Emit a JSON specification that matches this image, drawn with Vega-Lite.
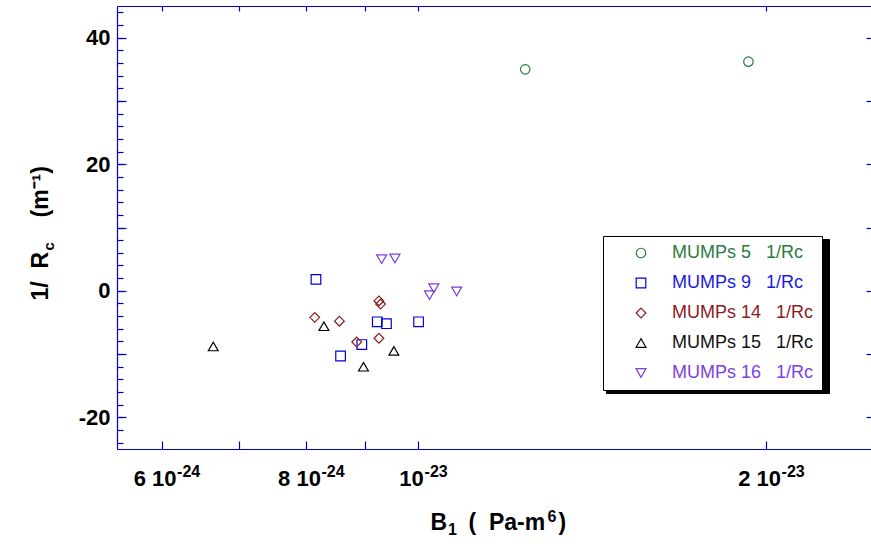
{
  "$schema": "https://vega.github.io/schema/vega-lite/v6.json",
  "autosize": {"type": "none"},
  "padding": {"left": 117, "top": 6, "right": 0, "bottom": 95},
  "width": 754,
  "height": 443,
  "background": "white",
  "config": {
    "font": "Liberation Sans",
    "view": {"stroke": null},
    "axis": {"grid": false, "domainColor": "#0000cc", "tickColor": "#0000cc", "domainWidth": 1.2, "tickWidth": 1.2,
             "titleFontWeight": "bold", "titleColor": "#000", "titleBaseline": "alphabetic", "titleAlign": "left"}
  },
  "data": {
    "values": [
      {"series": "MUMPs 5", "B1": 1.238e-23, "inv_Rc": 35.0},
      {"series": "MUMPs 5", "B1": 1.931e-23, "inv_Rc": 36.2},
      {"series": "MUMPs 9", "B1": 8.16e-24, "inv_Rc": 1.8},
      {"series": "MUMPs 9", "B1": 9.22e-24, "inv_Rc": -4.9},
      {"series": "MUMPs 9", "B1": 9.39e-24, "inv_Rc": -5.2},
      {"series": "MUMPs 9", "B1": 1.001e-23, "inv_Rc": -4.9},
      {"series": "MUMPs 9", "B1": 8.94e-24, "inv_Rc": -8.5},
      {"series": "MUMPs 9", "B1": 8.57e-24, "inv_Rc": -10.3},
      {"series": "MUMPs 14", "B1": 9.25e-24, "inv_Rc": -1.6},
      {"series": "MUMPs 14", "B1": 9.28e-24, "inv_Rc": -2.1},
      {"series": "MUMPs 14", "B1": 8.14e-24, "inv_Rc": -4.2},
      {"series": "MUMPs 14", "B1": 8.55e-24, "inv_Rc": -4.8},
      {"series": "MUMPs 14", "B1": 8.85e-24, "inv_Rc": -8.1},
      {"series": "MUMPs 14", "B1": 9.25e-24, "inv_Rc": -7.5},
      {"series": "MUMPs 15", "B1": 6.65e-24, "inv_Rc": -8.8},
      {"series": "MUMPs 15", "B1": 8.29e-24, "inv_Rc": -5.6},
      {"series": "MUMPs 15", "B1": 9.53e-24, "inv_Rc": -9.5},
      {"series": "MUMPs 15", "B1": 8.97e-24, "inv_Rc": -12.0},
      {"series": "MUMPs 16", "B1": 9.30e-24, "inv_Rc": 5.0},
      {"series": "MUMPs 16", "B1": 9.55e-24, "inv_Rc": 5.1},
      {"series": "MUMPs 16", "B1": 1.032e-23, "inv_Rc": 0.4},
      {"series": "MUMPs 16", "B1": 1.023e-23, "inv_Rc": -0.7},
      {"series": "MUMPs 16", "B1": 1.080e-23, "inv_Rc": -0.1}
    ]
  },
  "layer": [
    {
      "mark": {"type": "point", "filled": false, "strokeWidth": 1.2, "opacity": 1},
      "encoding": {
        "x": {
          "field": "B1", "type": "quantitative",
          "scale": {"type": "log", "domain": [5.49e-24, 2.465e-23], "nice": false},
          "axis": {
            "orient": "bottom",
            "values": [6e-24, 7e-24, 8e-24, 9e-24, 1e-23, 2e-23],
            "ticks": true, "tickSize": -8,
            "labelExpr": "round(datum.value*1e25)==60 ? '6 10' : round(datum.value*1e25)==80 ? '8 10' : round(datum.value*1e25)==100 ? '10' : round(datum.value*1e25)==200 ? '2 10' : ''",
            "labelFontSize": 22, "labelFontWeight": "bold", "labelColor": "#000",
            "labelPadding": 27, "labelOffset": -7, "labelAlign": "center", "labelBaseline": "top",
            "labelOverlap": false, "labelFlush": false, "labelBound": false,
            "title": "B", "titleFontSize": 23, "titleX": 313, "titleY": 80
          }
        },
        "y": {
          "field": "inv_Rc", "type": "quantitative",
          "scale": {"domain": [-25, 45], "nice": false, "zero": false},
          "axis": {
            "orient": "left",
            "values": [-24, -22, -20, -18, -16, -14, -12, -10, -8, -6, -4, -2, 0, 2, 4, 6, 8, 10, 12, 14, 16, 18, 20, 22, 24, 26, 28, 30, 32, 34, 36, 38, 40, 42, 44],
            "ticks": true, "tickSize": -6,
            "labelExpr": "datum.value % 20 === 0 ? (datum.value < 0 ? '-' + abs(datum.value) : '' + datum.value) : ''",
            "labelFontSize": 22, "labelFontWeight": "bold", "labelColor": "#000",
            "labelPadding": 13, "labelOverlap": false, "labelBound": false, "labelFlush": false,
            "title": "1/\u00a0\u00a0R", "titleFontSize": 23, "titleAngle": -90, "titleX": -70, "titleY": 294
          }
        },
        "color": {
          "field": "series", "type": "nominal",
          "scale": {
            "domain": ["MUMPs 5", "MUMPs 9", "MUMPs 14", "MUMPs 15", "MUMPs 16"],
            "range": ["#2a7d3c", "#0000dd", "#8b1c1c", "#000000", "#7b3fe0"]
          },
          "legend": {
            "orient": "none", "legendX": 486, "legendY": 230, "zindex": 2,
            "title": null,
            "strokeColor": "#000", "fillColor": "#fff", "padding": 8,
            "symbolOffset": 21, "symbolSize": 80, "symbolStrokeWidth": 1.2, "symbolType": "circle",
            "labelOffset": 22, "labelFontSize": 18, "labelFont": "Liberation Sans", "labelLimit": 300,
            "labelColor": {"expr": "datum.value === 'MUMPs 5' ? '#2a7d3c' : datum.value === 'MUMPs 9' ? '#1a1ae0' : datum.value === 'MUMPs 14' ? '#8b1c1c' : datum.value === 'MUMPs 16' ? '#7b3fe0' : '#111111'"},
            "rowPadding": 12,
            "labelExpr": "datum.label + '\u00a0\u00a0\u00a01/Rc'",
            "encode": {
              "legend": {"strokeWidth": {"value": 2}}
            }
          }
        },
        "shape": {
          "field": "series", "type": "nominal",
          "scale": {
            "domain": ["MUMPs 5", "MUMPs 9", "MUMPs 14", "MUMPs 15", "MUMPs 16"],
            "range": ["circle", "square", "diamond", "triangle-up", "triangle-down"]
          }
        },
        "size": {
          "field": "series", "type": "nominal",
          "scale": {
            "domain": ["MUMPs 5", "MUMPs 9", "MUMPs 14", "MUMPs 15", "MUMPs 16"],
            "range": [90, 100, 150, 100, 100]
          },
          "legend": null
        }
      }
    },
    {
      "mark": {"type": "point", "opacity": 0},
      "encoding": {
        "x": {
          "field": "B1", "type": "quantitative",
          "axis": {
            "orient": "top", "values": [6e-24, 7e-24, 8e-24, 9e-24, 1e-23, 2e-23],
            "labels": false, "ticks": true, "tickSize": -5,
            "title": "6", "titleFontSize": 16, "titleX": 430, "titleY": 515
          }
        },
        "y": {
          "field": "inv_Rc", "type": "quantitative",
          "axis": {
            "orient": "right", "values": [-20, -10, 0, 10, 20, 30, 40],
            "labels": false, "domain": false, "ticks": true, "tickSize": -5,
            "title": ")", "titleFontSize": 23, "titleAngle": 0, "titleX": -313, "titleY": 523
          }
        }
      }
    },
    {
      "mark": {"type": "point", "opacity": 0},
      "encoding": {
        "x": {
          "field": "B1", "type": "quantitative",
          "axis": {
            "orient": "bottom", "values": [6e-24, 8e-24, 1e-23, 2e-23],
            "domain": false, "ticks": false, "tickSize": 0,
            "labelExpr": "round(datum.value*1e25) < 100 ? '-24' : '-23'",
            "labelFontSize": 16, "labelFontWeight": "bold", "labelColor": "#000",
            "labelAlign": "left", "labelBaseline": "top", "labelPadding": 14,
            "labelOffset": {"condition": {"test": "round(datum.value*1e25) == 100", "value": 6}, "value": 15},
            "labelOverlap": false, "labelFlush": false, "labelBound": false,
            "title": "1", "titleFontSize": 16, "titleX": 330.5, "titleY": 85
          }
        },
        "y": {
          "field": "inv_Rc", "type": "quantitative",
          "axis": {
            "orient": "left", "values": [-20, -10, 0, 10, 20, 30, 40],
            "domain": false, "ticks": true, "tickSize": -9, "labels": false,
            "title": "c", "titleFontSize": 15, "titleAngle": -90, "titleX": -64, "titleY": 244
          }
        },
        "strokeDash": {
          "field": "series", "type": "nominal",
          "legend": {
            "orient": "none", "legendX": 489, "legendY": 233, "zindex": 0,
            "title": null, "values": ["MUMPs 5"],
            "strokeColor": "#000", "fillColor": "#000", "padding": 8,
            "symbolOffset": 0, "symbolSize": 42849, "symbolOpacity": 0, "symbolStrokeWidth": 0,
            "symbolType": "M-1,-0.324H1V0.324H-1Z",
            "labelOffset": 0, "labelFontSize": 18,
            "labelExpr": "''",
            "encode": {"legend": {"strokeWidth": {"value": 2}}}
          }
        }
      }
    },
    {
      "mark": {"type": "point", "opacity": 0},
      "encoding": {
        "x": {
          "field": "B1", "type": "quantitative",
          "axis": {
            "orient": "bottom", "domain": false, "ticks": false, "labels": false, "tickSize": 0,
            "title": "(\u00a0\u00a0Pa-m", "titleFontSize": 23, "titleX": 351, "titleY": 80
          }
        },
        "y": {
          "field": "inv_Rc", "type": "quantitative",
          "axis": {
            "orient": "left", "domain": false, "ticks": false, "labels": false, "tickSize": 0,
            "title": "(m⁻¹)", "titleFontSize": 23, "titleAngle": -90, "titleX": -70, "titleY": 211
          }
        }
      }
    }
  ],
  "resolve": {"axis": {"x": "independent", "y": "independent"}}
}
